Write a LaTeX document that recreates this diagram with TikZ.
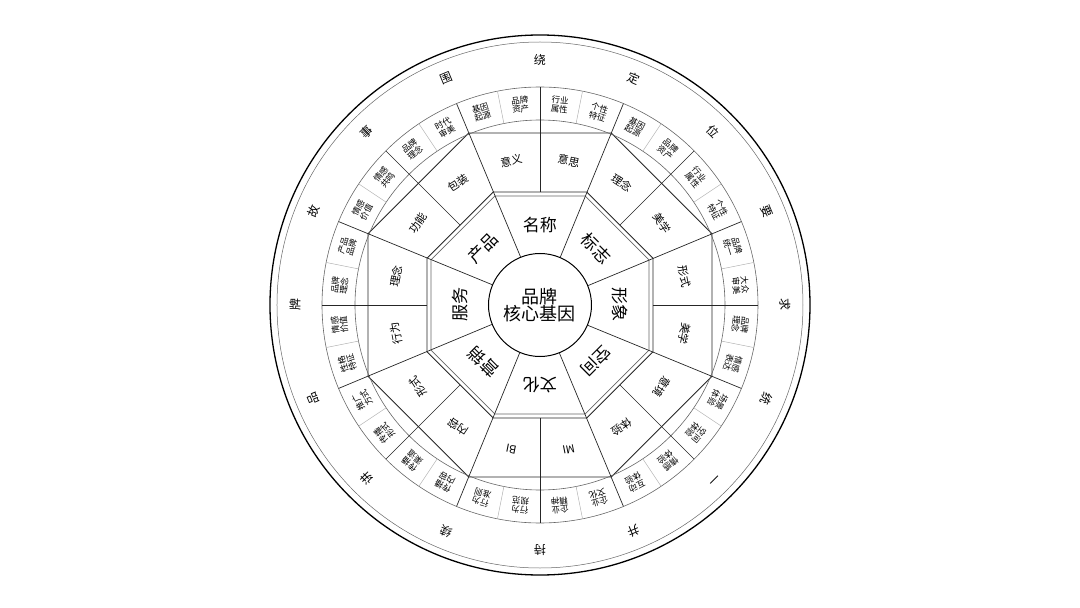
\documentclass[tikz,border=0pt]{standalone}
\usepackage{fontspec}
\setmainfont{Noto Sans CJK SC}
\usetikzlibrary{positioning, calc}

\begin{document}
\begin{tikzpicture}[
        x=1pt, y=1pt,
        core/.style={circle, draw, line width=1pt, minimum size=103pt, inner sep=0pt, align=center, font=\fontsize{18}{15}\selectfont},
        gene/.style={font=\fontsize{17}{17}\selectfont},
        facet/.style={font=\fontsize{11}{11}\selectfont},
        detail/.style={align=center, inner sep=0pt, font=\fontsize{8.5}{7.5}\selectfont},
        motto/.style={font=\fontsize{12}{12}\selectfont},
        ringline/.style={draw=black!60, line width=0.6pt},
        edgeline/.style={draw=black!85, line width=0.9pt}
    ]
    \useasboundingbox (-540,-303) rectangle (540,305);

    \node[core] (core) at (0,0) {品牌\\核心基因};

    % octagons
    \draw[edgeline] (22.5:122.3) \foreach \a in {67.5,112.5,...,337.5} {-- (\a:122.3)} -- cycle;
    \draw[ringline] (22.5:118) \foreach \a in {67.5,112.5,...,337.5} {-- (\a:118)} -- cycle;
    \draw[edgeline] (22.5:186.2) \foreach \a in {67.5,112.5,...,337.5} {-- (\a:186.2)} -- cycle;

    % rings
    \draw[ringline] (core.center) circle (185);
    \draw[ringline] (core.center) circle (218);
    \draw[ringline, line width=0.5pt] (core.center) circle (263);
    \draw[line width=1.3pt] (core.center) circle (270);

    % dividers
    \foreach \a in {22.5,67.5,...,337.5} {
        \draw[edgeline, line width=0.7pt] (core.\a) -- (\a:218);
    }
    \foreach \a in {0,45,...,315} {
        \draw[edgeline, line width=0.7pt] (\a:113) -- (\a:218);
    }
    \foreach \a in {11.25,33.75,...,348.75} {
        \draw[draw=black!30, line width=0.5pt] (\a:185) -- (\a:218);
    }

    % labels
    \foreach \a/\txt [count=\n] in {90/名称, 45/标志, 0/形象, -45/空间, -90/文化, -135/营销, 180/服务, 135/产品} {
        \node[gene, rotate=\a-90] (gene\n) at (\a:80) {\txt};
    }
    \foreach \a/\txt [count=\n] in {101.25/意义, 78.75/意思, 56.25/理念, 33.75/美学, 11.25/形式, -11.25/美学, -33.75/意境, -56.25/体验, -78.75/MI, -101.25/BI, -123.75/内容, -146.25/形式, -168.75/行为, 168.75/理念, 146.25/功能, 123.75/包装} {
        \node[facet, rotate=\a-90] (facet\n) at (\a:147) {\txt};
    }
    \foreach \txt [count=\n, evaluate=\n as \a using 84.375-11.25*(\n-1)] in {
        行业\\属性, 个性\\特征, 基因\\起源, 品牌\\资产, 行业\\属性, 个性\\特征, 品牌\\统一, 大众\\审美,
        品牌\\理念, 情感\\表达, 场景\\体验, 空间\\体验, 情感\\体验, 互动\\体验, 企业\\文化, 企业\\精神,
        行为\\规范, 行为\\准则, 传播\\内容, 传播\\渠道, 传播\\形式, 推广\\方式, 性格\\特征, 情感\\价值,
        品牌\\理念, 产品\\品牌, 情感\\价值, 情感\\共鸣, 品牌\\理念, 时代\\审美, 基因\\起源, 品牌\\资产} {
        \node[detail, rotate=\a-90] (detail\n) at (\a:201.5) {\txt};
    }
    \foreach \txt [count=\n, evaluate=\n as \a using 112.5-22.5*(\n-1)] in {围,绕,定,位,要,求,统,一,并,持,续,讲,品,牌,故,事} {
        \node[motto, rotate=\a-90] (motto\n) at (\a:245) {\txt};
    }
\end{tikzpicture}
\end{document}
